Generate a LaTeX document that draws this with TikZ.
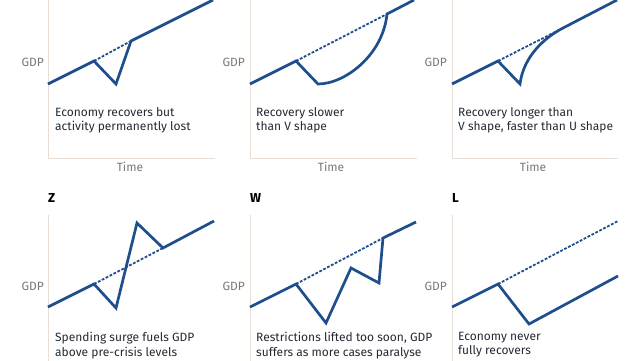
\documentclass[tikz,border=0pt]{standalone}
\usepackage{fontspec}
\setmainfont{Fira Sans}
\begin{document}
\begin{tikzpicture}[x=1pt,y=-1pt,
  gdpline/.style={draw=lineblue,line width=2.7pt,line join=miter},
  trend/.style={draw=lineblue,line width=1.8pt,dash pattern=on 2.8pt off 1.6pt},
  axis/.style={draw=axiscol,line width=1pt},
  caption/.style={anchor=north west,align=left,text=capcol,font=\fontsize{12}{14.5}\selectfont,inner sep=0pt},
  gdp/.style={anchor=east,text=gdpcol,font=\fontsize{12}{13}\selectfont,inner sep=0pt},
  timelab/.style={anchor=center,text=gdpcol,font=\fontsize{12}{13}\selectfont,inner sep=0pt},
  ttl/.style={anchor=west,text=black,font=\bfseries\fontsize{13}{14}\selectfont,inner sep=0pt}]
\definecolor{lineblue}{RGB}{30,78,140}
\definecolor{axiscol}{RGB}{232,222,213}
\definecolor{capcol}{RGB}{38,42,51}
\definecolor{gdpcol}{RGB}{120,120,120}
\useasboundingbox (0,0) rectangle (640,360);
\fill[white] (0,0) rectangle (640,360);

% ---------- Panel 1 ----------
\coordinate (a0) at (48,0); \coordinate (a1) at (48,158); \coordinate (a2) at (215,158);
\draw[axis] (a0) -- (a1) -- (a2);
\coordinate (p1s) at (48,84); \coordinate (p1p) at (94,61); \coordinate (p1t) at (116,84);
\coordinate (p1r) at (131,41); \coordinate (p1e) at (213,0);
\draw[trend] (p1p) -- (p1r);
\draw[gdpline] (p1s) -- (p1p) -- (p1t) -- (p1r) -- (p1e);
\node[gdp] (g1) at (44,62) {GDP};
\node[timelab] (t1) at (130,167) {Time};
\node[caption] (c1) at (55,107) {Economy recovers but\\activity permanently lost};

% ---------- Panel 2 ----------
\coordinate (b0) at (250,0); \coordinate (b1) at (250,158); \coordinate (b2) at (417,158);
\draw[axis] (b0) -- (b1) -- (b2);
\coordinate (p2s) at (250,84); \coordinate (p2p) at (296,61); \coordinate (p2t) at (318,84);
\coordinate (p2r) at (387,14); \coordinate (p2e) at (414,0);
\draw[trend] (p2p) -- (p2r);
\draw[gdpline] (p2s) -- (p2p) -- (p2t) .. controls (345,84) and (383,55) .. (p2r) -- (p2e);
\node[gdp] (g2) at (245,62) {GDP};
\node[timelab] (t2) at (331,167) {Time};
\node[caption] (c2) at (256,107) {Recovery slower\\than V shape};

% ---------- Panel 3 ----------
\coordinate (c0) at (452,0); \coordinate (c1a) at (452,158); \coordinate (c2a) at (618,158);
\draw[axis] (c0) -- (c1a) -- (c2a);
\coordinate (p3s) at (452,84); \coordinate (p3p) at (498,61); \coordinate (p3t) at (520,84);
\coordinate (p3r) at (563,28); \coordinate (p3e) at (617,0);
\draw[trend] (p3p) -- (p3r);
\draw[gdpline] (p3s) -- (p3p) -- (p3t) .. controls (523,60) and (540,40) .. (p3r) -- (p3e);
\node[gdp] (g3) at (447,62) {GDP};
\node[timelab] (t3) at (533,167) {Time};
\node[caption] (c3) at (458,107) {Recovery longer than\\V shape, faster than U shape};

% ---------- Panel 4 (Z) ----------
\node[ttl] (z) at (48,198) {Z};
\coordinate (d0) at (48,215); \coordinate (d1) at (48,362);
\draw[axis] (d0) -- (d1);
\coordinate (p4s) at (48,307); \coordinate (p4p) at (94,284); \coordinate (p4t) at (116,308);
\coordinate (p4h) at (137,223); \coordinate (p4r) at (163,248); \coordinate (p4e) at (214,221);
\draw[trend] (p4p) -- (p4r);
\draw[gdpline] (p4s) -- (p4p) -- (p4t) -- (p4h) -- (p4r) -- (p4e);
\node[gdp] (g4) at (44,286) {GDP};
\node[caption] (c4) at (55,332) {Spending surge fuels GDP\\above pre-crisis levels};

% ---------- Panel 5 (W) ----------
\node[ttl] (w) at (250,198) {W};
\coordinate (e0) at (250,215); \coordinate (e1) at (250,362);
\draw[axis] (e0) -- (e1);
\coordinate (p5s) at (250,307); \coordinate (p5p) at (296,284); \coordinate (p5t) at (326,323);
\coordinate (p5h) at (351,268); \coordinate (p5u) at (379,283); \coordinate (p5r) at (383,238);
\coordinate (p5e) at (416,222);
\draw[trend] (p5p) -- (p5r);
\draw[gdpline] (p5s) -- (p5p) -- (p5t) -- (p5h) -- (p5u) -- (p5r) -- (p5e);
\node[gdp] (g5) at (245,286) {GDP};
\node[caption] (c5) at (256,332) {Restrictions lifted too soon, GDP\\suffers as more cases paralyse};

% ---------- Panel 6 (L) ----------
\node[ttl] (l) at (452,198) {L};
\coordinate (f0) at (452,215); \coordinate (f1) at (452,362);
\draw[axis] (f0) -- (f1);
\coordinate (p6s) at (452,307); \coordinate (p6p) at (498,284); \coordinate (p6t) at (529,324);
\coordinate (p6e) at (618,276); \coordinate (p6d) at (618,221);
\draw[trend] (p6p) -- (p6d);
\draw[gdpline] (p6s) -- (p6p) -- (p6t) -- (p6e);
\node[gdp] (g6) at (447,286) {GDP};
\node[caption] (c6) at (458,332) {Economy never\\fully recovers};
\end{tikzpicture}
\end{document}
